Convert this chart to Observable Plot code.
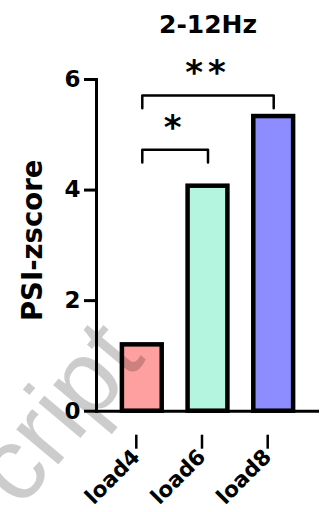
<!DOCTYPE html>
<html>
<head>
<meta charset="utf-8">
<script src="https://cdn.jsdelivr.net/npm/d3@7"></script>
<script src="https://cdn.jsdelivr.net/npm/@observablehq/plot@0.6"></script>
<style>
  body { margin: 0; background: #fff; }
  #chart { width: 330px; height: 512px; }
</style>
</head>
<body>
<div id="chart"></div>
<script>
// Chart text
const title = "2-12Hz";
const yLabel = "PSI-zscore";
const watermark = "cript";

// Categories and values
const loads = ["load4", "load6", "load8"];
const psi = [1.2, 4.07, 5.33];
const fills = ["#ffa0a0", "#b4f5df", "#8d8dff"];
const yTicks = [0, 2, 4, 6];

// Significance comparisons (indices into loads), bracket level and stars
const pairFrom = [0, 0];
const pairTo = [2, 1];
const pairLevel = [5.71, 4.73];
const pairStars = ["**", "*"];

const bars = loads.map((load, i) => ({i, load, psi: psi[i], fill: fills[i]}));
const halfWidth = 0.303;   // half bar width in category units
const legDrop = 0.23;      // bracket leg length in y units
const brackets = pairFrom.map((a, k) => ({k, a, b: pairTo[k], level: pairLevel[k], stars: pairStars[k]}));
const bracketPath = brackets.flatMap(d => [
  {k: d.k, x: d.a, y: d.level - legDrop},
  {k: d.k, x: d.a, y: d.level},
  {k: d.k, x: d.b, y: d.level},
  {k: d.k, x: d.b, y: d.level - legDrop}
]);

const font = "'DejaVu Sans', sans-serif";

const chart = Plot.plot({
  width: 330,
  height: 512,
  marginLeft: 96,
  marginRight: 11,
  marginTop: 79,
  marginBottom: 101.3,
  style: {fontFamily: font, fontWeight: "bold", color: "#000", background: "#fff", overflow: "visible"},
  x: {type: "linear", domain: [-0.697, 2.697]},
  y: {domain: [0, 6]},
  marks: [
    Plot.rect(bars, {
      x1: d => d.i - halfWidth, x2: d => d.i + halfWidth,
      y1: 0, y2: "psi",
      fill: "fill", stroke: "#000", strokeWidth: 4.5
    }),
    Plot.ruleY([0], {stroke: "#000", strokeWidth: 3}),
    Plot.frame({anchor: "left", stroke: "#000", strokeWidth: 3}),
    Plot.axisY({
      ticks: yTicks, tickFormat: d => d, tickSize: 12, tickPadding: 4,
      fontSize: 23, stroke: "#000", strokeWidth: 3, label: null
    }),
    Plot.axisX({
      ticks: loads.map((_, i) => i), tickFormat: i => loads[i],
      tickRotate: -45, tickSize: 14, tickPadding: 4, dx: -6, dy: 24,
      fontSize: 21.5, stroke: "#000", strokeWidth: 2.5, label: null
    }),
    Plot.text([yLabel], {
      frameAnchor: "left", textAnchor: "middle", rotate: -90, dx: -63, dy: -5,
      fontSize: 27.5, fill: "#000"
    }),
    Plot.text([title], {frameAnchor: "top", dy: -64, fontSize: 25, fill: "#000"}),
    Plot.line(bracketPath, {x: "x", y: "y", z: "k", stroke: "#000", strokeWidth: 2.5}),
    Plot.text(brackets, {
      x: d => (d.a + d.b) / 2, y: "level", text: "stars",
      dy: -22, fontSize: 34, fill: "#000"
    }),
    Plot.text([watermark], {
      frameAnchor: "bottom-left", dx: 50, dy: -52, rotate: -50,
      textAnchor: "end", lineAnchor: "bottom",
      fontSize: 104, fontWeight: "normal", fontFamily: "'Liberation Sans', Arial, sans-serif",
      fill: "#000", fillOpacity: 0.2
    })
  ]
});

// widen the gap between the stars of each significance label
d3.select(chart).selectAll("text")
  .filter(function () { return /^\*+$/.test(this.textContent); })
  .style("letter-spacing", "5px");

document.getElementById("chart").append(chart);
</script>
</body>
</html>
